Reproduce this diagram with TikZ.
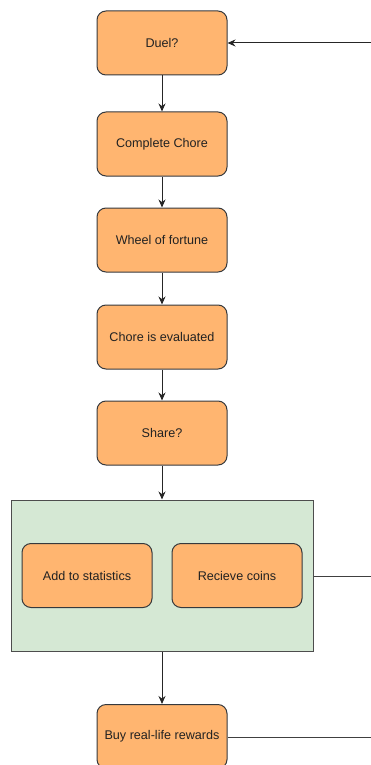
\documentclass[tikz,border=0pt]{standalone}
\usepackage{fontspec}
\setmainfont{Liberation Sans}
\usetikzlibrary{arrows.meta}
\definecolor{orangefill}{HTML}{FFB570}
\definecolor{boxline}{HTML}{36393D}
\definecolor{greenfill}{HTML}{D5E8D4}
\definecolor{greenline}{HTML}{4D4D4D}
\definecolor{txt}{HTML}{222222}
\begin{document}
\begin{tikzpicture}[x=1pt,y=-1pt,
  stepbox/.style={draw=boxline,fill=orangefill,line width=1pt,rounded corners=9pt,
    minimum width=130pt,minimum height=64pt,inner sep=0pt,font=\fontsize{12.6}{14}\selectfont,text=txt},
  groupbox/.style={draw=greenline,fill=greenfill,line width=1pt,minimum width=302pt,minimum height=151pt,inner sep=0pt},
  flow/.style={line width=1pt,black!85,-{Stealth[length=8pt,width=7pt]}},
  plain/.style={line width=1pt,black!75}]
\useasboundingbox (0,0) rectangle (371,765);
\clip (0,0) rectangle (371,765);
% main column
\node[stepbox] (duel) at (162,43) {Duel?};
\node[stepbox] (chore) at (162,144) {Complete Chore};
\node[stepbox] (wheel) at (162,240) {Wheel of fortune};
\node[stepbox] (eval) at (162,337) {Chore is evaluated};
\node[stepbox] (share) at (162,433) {Share?};
% group of outcomes
\node[groupbox] (group) at (162,575.5) {};
\node[stepbox] (stats) at (87,575.5) {Add to statistics};
\node[stepbox] (coins) at (237,575.5) {Recieve coins};
\node[stepbox] (buy) at (162,736.5) {Buy real-life rewards};
% loose ends on the right
\coordinate (inR) at (372,43);
\coordinate (outG) at (372,576);
\coordinate (outB) at (372,737);
% connectors
\draw[flow] (duel) -- (chore);
\draw[flow] (chore) -- (wheel);
\draw[flow] (wheel) -- (eval);
\draw[flow] (eval) -- (share);
\draw[flow] (share) -- (group);
\draw[flow] (group) -- (buy);
\draw[flow] (inR) -- (duel.east);
\draw[plain] (group.east |- outG) -- (outG);
\draw[plain] (buy.east |- outB) -- (outB);
\end{tikzpicture}
\end{document}
